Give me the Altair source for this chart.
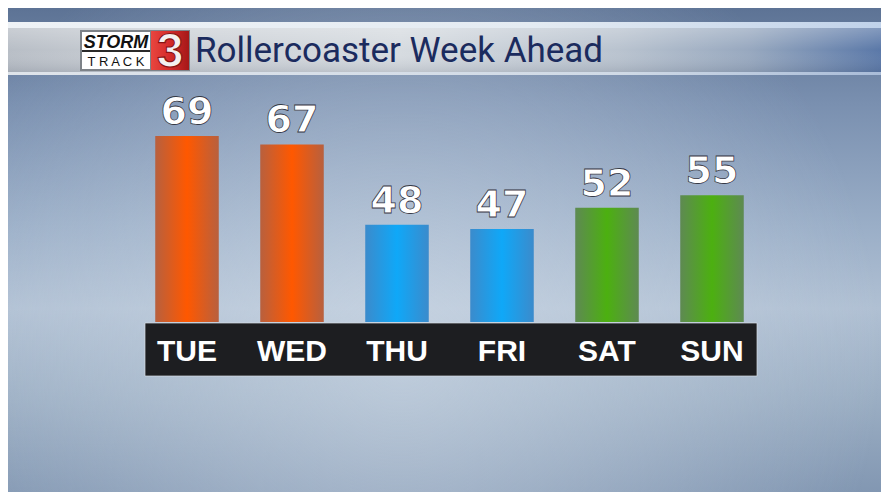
import altair as alt
import pandas as pd

# ---- data ----
days = ["TUE", "WED", "THU", "FRI", "SAT", "SUN"]
highs = [69, 67, 48, 47, 52, 55]
groups = ["warm", "warm", "cool", "cool", "mild", "mild"]
title_text = "Rollercoaster Week Ahead"
logo_top = "STORM"
logo_bottom = "T R A C K"
logo_num = "3"

df = pd.DataFrame({"day": days, "high": highs, "group": groups})
one = pd.DataFrame({"k": [0]})

W, H = 873, 484
BASE = 25
NARROW = "Liberation Sans Narrow, Roboto, Liberation Sans, sans-serif"

x = alt.X("day:N", sort=days, axis=None,
          scale=alt.Scale(domain=days, range=[126.5, 756.5],
                          paddingInner=0.395, paddingOuter=0.1975))
y = alt.Y("high:Q", axis=None,
          scale=alt.Scale(domain=[BASE, 69], range=[314, 128], zero=False, nice=False))


def lin(stops, vertical=True):
    return alt.LinearGradient(
        gradient="linear",
        stops=[alt.GradientStop(offset=o, color=c) for o, c in stops],
        x1=0, y1=0, x2=0 if vertical else 1, y2=1 if vertical else 0)


def rect(x1, x2, y1, y2, fill, **kw):
    return alt.Chart(one).mark_rect(color=fill, **kw).encode(
        x=alt.value(x1), x2=alt.value(x2), y=alt.value(y1), y2=alt.value(y2))


def label(txt, xx, yy, **kw):
    return alt.Chart(one).mark_text(text=txt, **kw).encode(
        x=alt.value(xx), y=alt.value(yy))


# background sky
bg = rect(0, W, 0, H, lin([(0, "#5d7395"), (0.2, "#7a90b0"), (0.45, "#9aaec7"),
                           (0.62, "#b0c0d3"), (0.8, "#9cafc4"), (1, "#8297b2")]))
glow = rect(0, W, 0, H, alt.RadialGradient(
    gradient="radial",
    stops=[alt.GradientStop(offset=0, color="rgba(215,225,236,0.55)"),
           alt.GradientStop(offset=1, color="rgba(215,225,236,0)")],
    x1=0.45, y1=0.62, r1=0, x2=0.45, y2=0.62, r2=0.55))

# banner
b_top = rect(0, W, 14, 20, lin([(0, "#eef2f6"), (0.6, "#e4ebf2"), (1, "#c0d2ea")], vertical=False))
b_body = rect(0, W, 20, 64, lin([(0, "#b8bec6"), (0.15, "#c9ced4"), (0.45, "#d6dbe0"),
                                 (0.7, "#b9c3cf"), (0.85, "#97a8bf"), (1, "#5a78a8")], vertical=False))
b_shade = rect(0, W, 20, 64, lin([(0, "rgba(255,255,255,0.25)"), (0.5, "rgba(255,255,255,0)"),
                                  (1, "rgba(60,70,90,0.15)")]))
b_bot = rect(0, W, 64, 67, lin([(0, "#dfe4ea"), (0.7, "#d0dae6"), (1, "#a9bcd8")], vertical=False))

# logo
logo_frame = rect(72, 182, 22, 63, "#7d8288")
logo_white = rect(74, 142, 24, 61, "#ffffff")
logo_div = rect(74, 142, 42, 44, "#2a2a2a")
logo_red = rect(143, 181, 23, 62, lin([(0, "#e8463f"), (0.5, "#d42a2a"), (1, "#a51818")], vertical=False))
t_storm = label(logo_top, 108, 40, font="Liberation Sans", fontSize=18, fontWeight="bold",
                fontStyle="italic", color="#111111", align="center", baseline="alphabetic")
t_track = label(logo_bottom, 108, 58, font="Liberation Sans", fontSize=13, color="#111111",
                align="center", baseline="alphabetic")
t_three = label(logo_num, 162, 59, font="Liberation Sans", fontSize=48, fontWeight="bold",
                color="#f4f0f0", stroke="#8a1414", strokeWidth=1.2, align="center",
                baseline="alphabetic")
t_title = label(title_text, 187, 54, font=NARROW, fontSize=35,
                color="#1b2b5e", align="left", baseline="alphabetic")

# bars
bar_styles = [("warm", "#b8603e", "#ff5800"),
              ("cool", "#3b8bcc", "#0fa8f8"),
              ("mild", "#5e8a52", "#4cb010")]
bars = []
for grp, edge, center in bar_styles:
    bars.append(
        alt.Chart(df).transform_filter(alt.datum.group == grp)
        .mark_bar(color=lin([(0, edge), (0.5, center), (1, edge)], vertical=False))
        .encode(x=x, y=y, y2=alt.datum(BASE))
    )

# day strip
strip = rect(137, 749, 315, 368, "#1d1e21", stroke="#d8dee6", strokeWidth=1, strokeOpacity=0.7)
day_text = alt.Chart(df).mark_text(font="Liberation Sans", fontWeight="bold", fontSize=30,
                                   color="white", baseline="alphabetic").encode(
    x=x, y=alt.value(353), text="day:N")

# value labels (white with dark edge)
val_text = alt.Chart(df).mark_text(font="DejaVu Sans", fontWeight="bold", fontSize=38,
                                   baseline="alphabetic", dy=-12, color="white",
                                   stroke="#1e2430", strokeWidth=0.8, strokeOpacity=0.9).encode(
    x=x, y=y, text="high:Q")

chart = alt.layer(
    bg, glow, b_top, b_body, b_shade, b_bot,
    logo_frame, logo_white, logo_div, logo_red, t_storm, t_track, t_three, t_title,
    *bars, strip, day_text, val_text
).properties(
    width=W, height=H, padding=0,
    autosize=alt.AutoSizeParams(type="none"),
    background="#7d93b2"
).configure_view(strokeWidth=0)

chart.save("out.html", embed_options={"renderer": "svg", "actions": False})
